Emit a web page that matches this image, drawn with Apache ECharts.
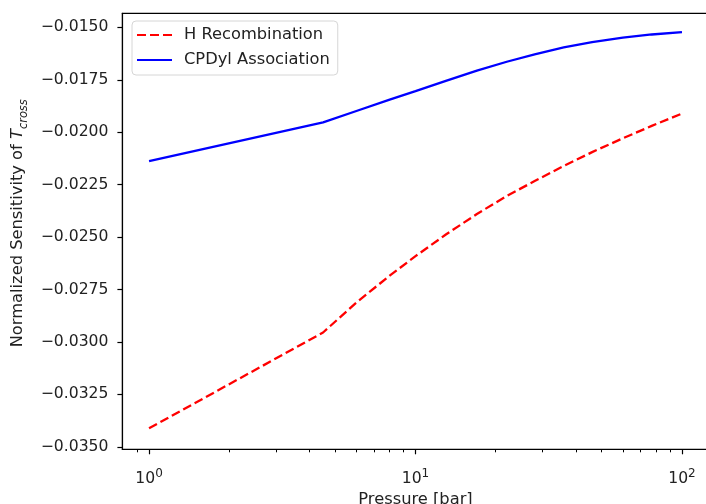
<!DOCTYPE html>
<html>
<head>
<meta charset="utf-8">
<script src="https://cdn.jsdelivr.net/npm/echarts@6/dist/echarts.min.js"></script>
<style>
  html, body { margin: 0; padding: 0; background: #fff; }
  #chart { width: 706px; height: 504px; }
</style>
</head>
<body>
<div id="chart"></div>
<script>
// pressure samples [bar]
const pressure = [1, 4.5, 6, 8, 10, 13, 17, 22, 28, 36, 46, 60, 77, 100];

const hRecombination = [-0.03412, -0.02955, -0.02812, -0.02684, -0.02591, -0.02488, -0.02390,
  -0.02304, -0.02233, -0.02161, -0.02095, -0.02029, -0.01970, -0.01911];
const cpdylAssociation = [-0.02138, -0.01953, -0.01899, -0.01845, -0.01804, -0.01755, -0.01706,
  -0.01664, -0.01629, -0.01596, -0.01570, -0.01549, -0.01534, -0.01523];

const yTicks = [-0.035, -0.0325, -0.03, -0.0275, -0.025, -0.0225, -0.02, -0.0175, -0.015];
const xMajorTicks = [1, 10, 100];
const xMinorTicks = [0.9, 2, 3, 4, 5, 6, 7, 8, 9, 20, 30, 40, 50, 60, 70, 80, 90];

const FONT = 'DejaVu Sans';
const FS = 15.6;   // tick labels
const FL = 16.3;   // legend and axis names
const INK = '#222';

const chart = echarts.init(document.getElementById('chart'), null, { renderer: 'canvas' });

const pairs = ys => pressure.map((p, i) => [p, ys[i]]);

const option = {
  backgroundColor: '#fff',
  animation: false,
  textStyle: { fontFamily: FONT },
  grid: {
    left: 122.4,
    top: 13.3,
    width: 586.2,
    height: 436,
    show: true,
    borderColor: '#000',
    borderWidth: 1.2,
    containLabel: false,
    outerBoundsMode: 'none'
  },
  legend: {
    left: 132,
    top: 21,
    orient: 'vertical',
    itemWidth: 35,
    itemHeight: 16,
    itemGap: 9,
    padding: [6, 8, 7, 4],
    backgroundColor: 'rgba(255,255,255,0.8)',
    borderColor: '#d6d6d6',
    borderWidth: 1,
    borderRadius: 4,
    itemStyle: { opacity: 0 },
    textStyle: { fontFamily: FONT, fontSize: FL, color: INK, padding: [0, 0, 0, 7] },
    data: ['H Recombination', 'CPDyl Association']
  },
  xAxis: [
    {
      type: 'log',
      logBase: 10,
      min: 0.7943,
      max: 125.89,
      position: 'bottom',
      name: 'Pressure [bar]',
      nameLocation: 'middle',
      nameGap: 41,
      nameTextStyle: { fontFamily: FONT, fontSize: FL, color: INK },
      axisLine: { show: true, lineStyle: { color: '#000', width: 1.2 } },
      axisTick: { show: true, customValues: xMajorTicks, length: 5, lineStyle: { color: '#000', width: 1.2 } },
      axisLabel: {
        show: true,
        customValues: xMajorTicks,
        margin: 19,
        formatter: v => '{b|10}{s|' + Math.round(Math.log10(v)) + '}',
        rich: {
          b: { fontFamily: FONT, fontSize: FS, color: INK, lineHeight: 18, verticalAlign: 'top', padding: [3, 0, 0, 0] },
          s: { fontFamily: FONT, fontSize: 12, color: INK, lineHeight: 12, verticalAlign: 'top' }
        }
      },
      splitLine: { show: false }
    },
    {
      type: 'log',
      logBase: 10,
      min: 0.7943,
      max: 125.89,
      position: 'bottom',
      axisLine: { show: false },
      axisTick: { show: true, customValues: xMinorTicks, length: 3, lineStyle: { color: '#000', width: 1 } },
      axisLabel: { show: false },
      splitLine: { show: false }
    }
  ],
  yAxis: {
    type: 'value',
    min: -0.03512,
    max: -0.01433,
    name: '{n|Normalized Sensitivity of }{t|T}{s|cross}',
    nameLocation: 'middle',
    nameGap: 76,
    nameTextStyle: {
      padding: [0, 0, 0, 16],
      rich: {
        n: { fontFamily: FONT, fontSize: FL, color: INK, lineHeight: 20, verticalAlign: 'top' },
        t: { fontFamily: FONT, fontSize: FL, fontStyle: 'italic', color: INK, lineHeight: 20, verticalAlign: 'top' },
        s: { fontFamily: FONT, fontSize: 11.4, fontStyle: 'italic', color: INK, lineHeight: 12, verticalAlign: 'top', padding: [9, 0, 0, 0] }
      }
    },
    axisLine: { show: true, lineStyle: { color: '#000', width: 1.2 } },
    axisTick: { show: true, customValues: yTicks, length: 5, lineStyle: { color: '#000', width: 1.2 } },
    axisLabel: {
      show: true,
      customValues: yTicks,
      margin: 14,
      fontFamily: FONT,
      fontSize: FS,
      color: INK,
      formatter: v => v.toFixed(4).replace('-', '\u2212')
    },
    splitLine: { show: false }
  },
  series: [
    {
      name: 'H Recombination',
      type: 'line',
      xAxisIndex: 0,
      data: pairs(hRecombination),
      symbol: 'none',
      smooth: false,
      color: '#ff0000',
      lineStyle: { color: '#ff0000', width: 2.3, type: [9, 4] }
    },
    {
      name: 'CPDyl Association',
      type: 'line',
      xAxisIndex: 0,
      data: pairs(cpdylAssociation),
      symbol: 'none',
      smooth: false,
      color: '#0000ff',
      lineStyle: { color: '#0000ff', width: 2.3 }
    }
  ]
};

chart.setOption(option);
</script>
</body>
</html>
